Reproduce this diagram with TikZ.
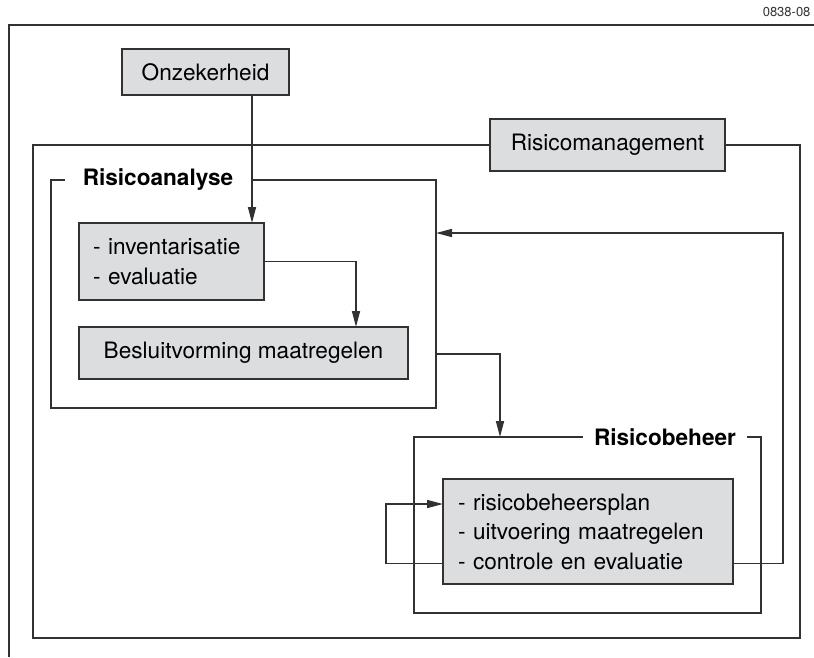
\documentclass[tikz,border=0pt]{standalone}
\usepackage{fontspec}
\setmainfont{TeX Gyre Heros}
\usetikzlibrary{arrows.meta, positioning, calc}
\definecolor{boxgray}{RGB}{220,221,223}
\definecolor{linegray}{RGB}{50,50,50}

\begin{document}
\begin{tikzpicture}[x=1pt, y=-1pt,
  frame/.style={draw=linegray, line width=1.6pt, outer sep=0pt, inner sep=0pt},
  box/.style={draw=linegray, line width=1.6pt, fill=boxgray, outer sep=0pt,
              font=\fontsize{22.6}{29.5}\selectfont},
  listbox/.style={box, align=left, inner ysep=0pt},
  title/.style={fill=white, inner ysep=3pt, outer sep=0pt,
                font=\fontsize{22.6}{26}\selectfont\bfseries},
  arrow/.style={-{Triangle[length=16pt, width=8pt]}, line width=1.6pt, draw=linegray},
  link/.style={line width=1.6pt, draw=linegray}
]
\useasboundingbox (0,0) rectangle (814,657);

% outer frame and figure number
\draw[link] (814,25) -- (9,25) -- (9,657);
\node[anchor=east, font=\fontsize{13}{15}\selectfont, text=linegray] (fignr) at (814,12) {0838-08};

% frames
\node[frame, minimum width=767pt, minimum height=493pt] (mgmt) at (416.5,391.5) {};
\node[frame, minimum width=385pt, minimum height=228pt] (ana) at (243.5,294) {};
\node[frame, minimum width=347pt, minimum height=176pt] (beh) at (587.5,525) {};

% frame titles
\node[box, minimum width=235pt, minimum height=52pt] (mgmtlabel) at (607.5,145) {Risicomanagement};
\node[title, inner xsep=18pt] (analabel) at (158,180) {Risicoanalyse};
\node[title, inner xsep=11pt] (behlabel) at (665,437) {Risicobeheer};

% boxes
\node[box, minimum width=167pt, minimum height=46pt] (onz) at (205.5,72) {Onzekerheid};
\node[listbox, inner xsep=14pt, text width=157pt, minimum height=77pt] (inv) at (171.5,261.5)
  {- inventarisatie\\- evaluatie};
\node[box, minimum width=329pt, minimum height=52pt] (bes) at (243.5,353) {Besluitvorming maatregelen};
\node[listbox, inner xsep=15pt, text width=260pt, minimum height=105pt] (rb) at (588,531.5)
  {- risicobeheersplan\\- uitvoering maatregelen\\- controle en evaluatie};

% connectors
\draw[arrow] ([xshift=46.5pt]onz.south) -- ([xshift=46.5pt]onz.south |- inv.north);
\draw[arrow] (inv.east) -| ([xshift=112.5pt]bes.north);
\draw[arrow] ([yshift=-60pt]ana.east) -| ([xshift=-87.5pt]beh.north);
\draw[arrow] ([yshift=-32pt]rb.west) -- ++(-57,0) |- ([yshift=27.5pt]rb.west);
\draw[arrow] ([yshift=-32pt]rb.east) -- ++(50,0) |- ([yshift=61pt]ana.east);

\end{tikzpicture}
\end{document}
